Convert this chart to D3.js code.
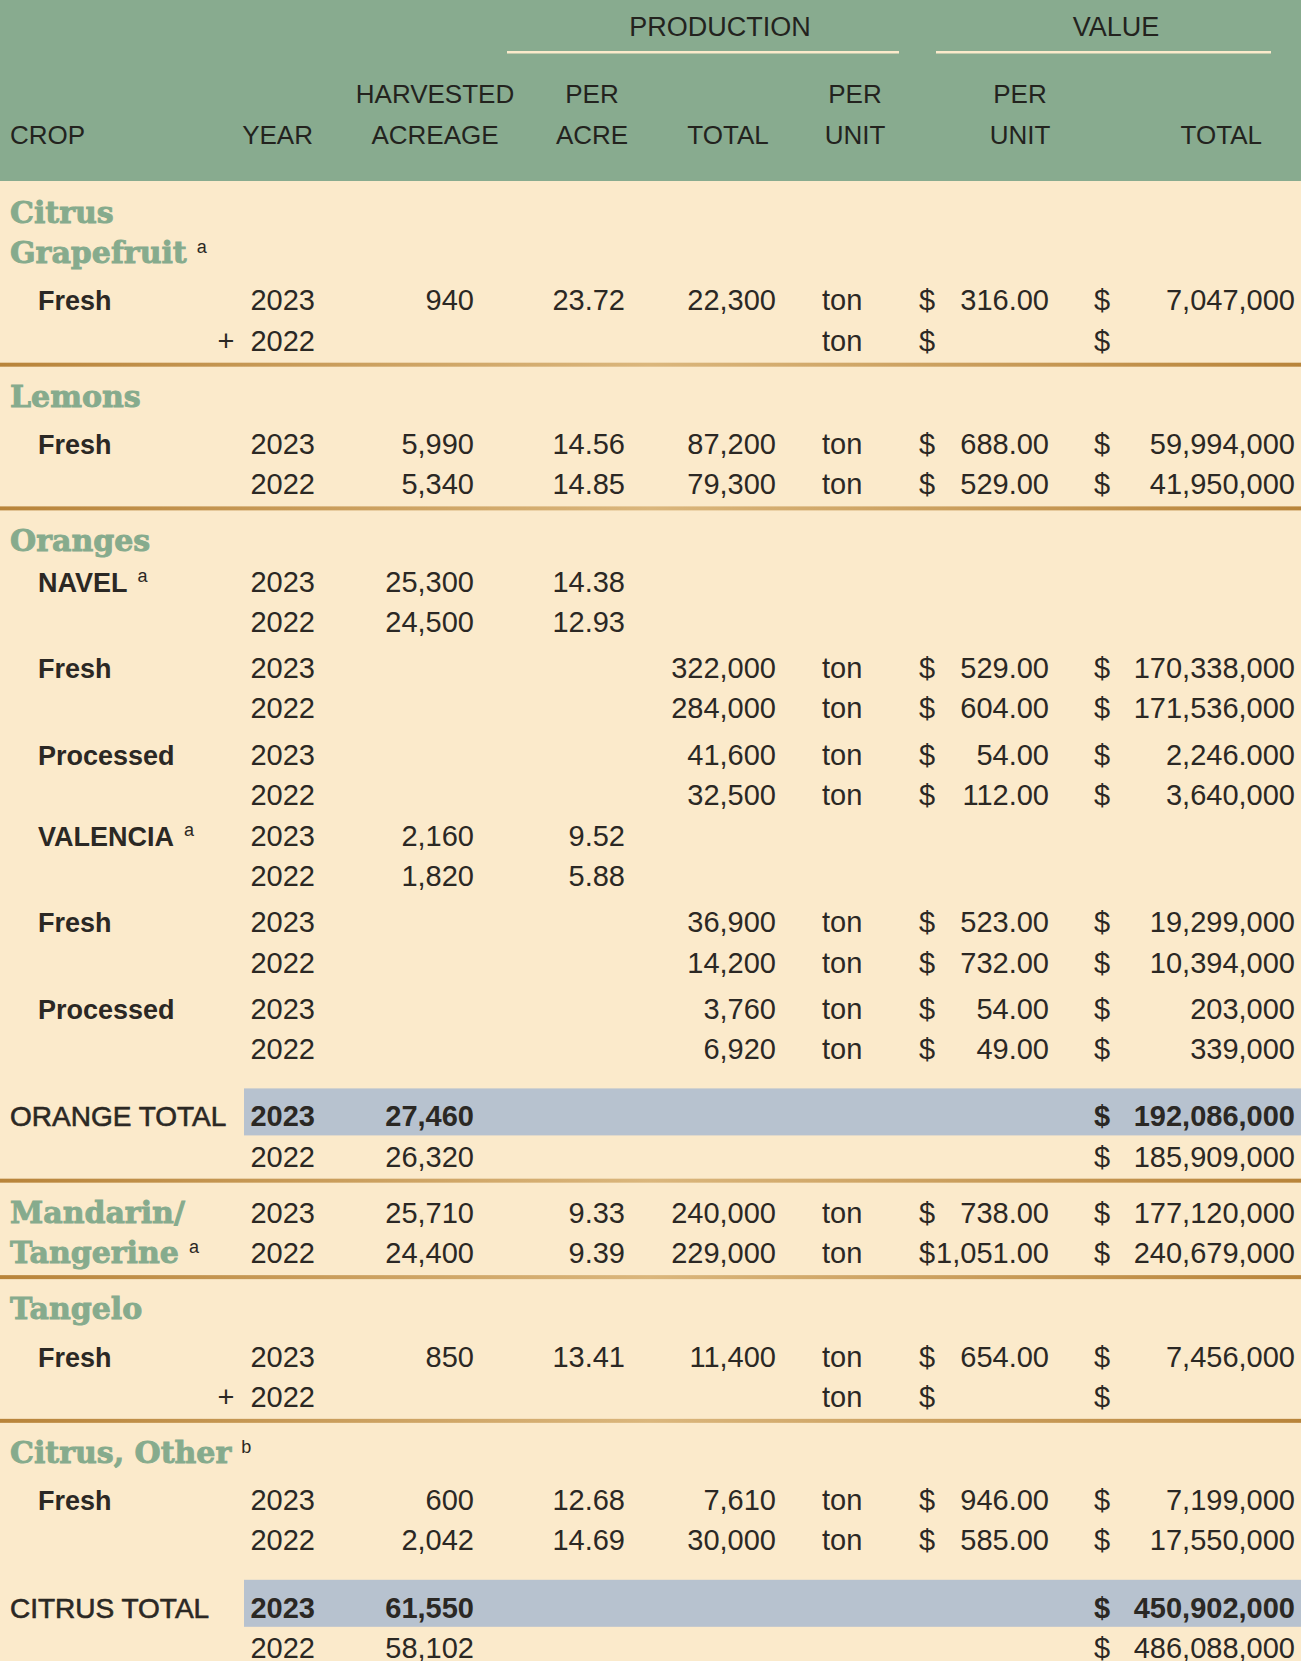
<!DOCTYPE html>
<html>
<head>
<meta charset="utf-8">
<script src="https://cdn.jsdelivr.net/npm/d3@7"></script>
<style>
  html, body { margin: 0; padding: 0; background: #fbeacb; }
  svg { display: block; }
</style>
</head>
<body>
<div id="table"></div>
<script>
// ---- header labels
const groupHeaders = ["PRODUCTION", "VALUE"];
const headerTop    = ["", "", "HARVESTED", "PER", "", "PER", "PER", ""];
const headerBottom = ["CROP", "YEAR", "ACREAGE", "ACRE", "TOTAL", "UNIT", "UNIT", "TOTAL"];

// ---- rows (one entry per table line)
const rowSection = [0,0,0,0, 1,1,1, 2,2,2,2,2,2,2,2,2,2,2,2,2,2,2, 3,3, 4,4,4, 5,5,5,5,5];
const rowStyle = [
  "crop","crop","item","item",
  "crop","item","item",
  "crop","item","item","item","item","item","item","item","item","item","item","item","item","total","total",
  "crop","crop",
  "crop","item","item",
  "crop","item","item","total","total"];
const rowLabels = [
  "Citrus","Grapefruit","Fresh","",
  "Lemons","Fresh","",
  "Oranges","NAVEL","","Fresh","","Processed","","VALENCIA","","Fresh","","Processed","","ORANGE TOTAL","",
  "Mandarin/","Tangerine",
  "Tangelo","Fresh","",
  "Citrus, Other","Fresh","","CITRUS TOTAL",""];
const rowNotes = [
  "","a","","",
  "","","",
  "","a","","","","","","a","","","","","","","",
  "","a",
  "","","",
  "b","","","",""];
const rowMarks = [
  "","","","+",
  "","","",
  "","","","","","","","","","","","","","","",
  "","",
  "","","+",
  "","","","",""];
const years = [
  "","","2023","2022",
  "","2023","2022",
  "","2023","2022","2023","2022","2023","2022","2023","2022","2023","2022","2023","2022","2023","2022",
  "2023","2022",
  "","2023","2022",
  "","2023","2022","2023","2022"];
const acreage = [
  "","","940","",
  "","5,990","5,340",
  "","25,300","24,500","","","","","2,160","1,820","","","","","27,460","26,320",
  "25,710","24,400",
  "","850","",
  "","600","2,042","61,550","58,102"];
const perAcre = [
  "","","23.72","",
  "","14.56","14.85",
  "","14.38","12.93","","","","","9.52","5.88","","","","","","",
  "9.33","9.39",
  "","13.41","",
  "","12.68","14.69","",""];
const prodTotal = [
  "","","22,300","",
  "","87,200","79,300",
  "","","","322,000","284,000","41,600","32,500","","","36,900","14,200","3,760","6,920","","",
  "240,000","229,000",
  "","11,400","",
  "","7,610","30,000","",""];
const units = [
  "","","ton","ton",
  "","ton","ton",
  "","","","ton","ton","ton","ton","","","ton","ton","ton","ton","","",
  "ton","ton",
  "","ton","ton",
  "","ton","ton","",""];
const unitValue = [
  "","","316.00","",
  "","688.00","529.00",
  "","","","529.00","604.00","54.00","112.00","","","523.00","732.00","54.00","49.00","","",
  "738.00","1,051.00",
  "","654.00","",
  "","946.00","585.00","",""];
const totalValue = [
  "","","7,047,000","",
  "","59,994,000","41,950,000",
  "","","","170,338,000","171,536,000","2,246.000","3,640,000","","","19,299,000","10,394,000","203,000","339,000","192,086,000","185,909,000",
  "177,120,000","240,679,000",
  "","7,456,000","",
  "","7,199,000","17,550,000","450,902,000","486,088,000"];

// ---- layout
const W = 1301, H = 1661, headH = 181;
const sans = "'Liberation Sans', Arial, sans-serif";
const serif = "'DejaVu Serif', serif";
const ink = "#2b2824", green = "#86ab8d", cream = "#fbeacb";

const svg = d3.select("#table").append("svg")
  .attr("width", W).attr("height", H);

svg.append("rect").attr("width", W).attr("height", H).attr("fill", cream);

let grad = svg.append("defs").append("linearGradient").attr("id", "rule");
grad.append("stop").attr("offset", "0%").attr("stop-color", "#b8843a");
grad.append("stop").attr("offset", "50%").attr("stop-color", "#dab67c");
grad.append("stop").attr("offset", "100%").attr("stop-color", "#b8843a");

// header
svg.append("rect").attr("width", W).attr("height", headH).attr("fill", "#88ab8f");

const headX = d3.scaleOrdinal().domain(d3.range(8))
  .range([10, 313, 435, 592, 728, 855, 1020, 1262]);
const headAnchor = i => i === 0 ? "start" : (i === 1 || i === 7) ? "end" : "middle";

const head = svg.append("g")
  .attr("font-family", sans).attr("font-size", 26).attr("fill", "#23231e");

head.selectAll(".h-top").data(headerTop).join("text")
  .attr("class", "h-top")
  .attr("x", (d, i) => headX(i)).attr("y", 103)
  .attr("text-anchor", (d, i) => headAnchor(i))
  .text(d => d);

head.selectAll(".h-bot").data(headerBottom).join("text")
  .attr("class", "h-bot")
  .attr("x", (d, i) => headX(i)).attr("y", 144)
  .attr("text-anchor", (d, i) => headAnchor(i))
  .text(d => d);

const groupSpan = [[507, 899], [936, 1271]];
const groupCenter = [720, 1116];
head.selectAll(".h-grp").data(groupHeaders).join("text")
  .attr("class", "h-grp")
  .attr("x", (d, i) => groupCenter[i])
  .attr("y", 36)
  .attr("font-size", 27)
  .attr("text-anchor", "middle")
  .text(d => d);

head.selectAll(".h-line").data(groupSpan).join("rect")
  .attr("class", "h-line")
  .attr("x", d => d[0]).attr("y", 51)
  .attr("width", d => d[1] - d[0]).attr("height", 2.5)
  .attr("fill", cream);

// ---- vertical position of every row
const gaps = rowLabels.map((d, i) => {
  if (i === 0) return 0;
  if (rowSection[i] !== rowSection[i - 1]) return 56;
  if (rowStyle[i] === "total" && rowStyle[i - 1] !== "total") return 67;
  if (years[i] === "2022") return 40;
  if (rowStyle[i] === "crop" && rowStyle[i - 1] === "crop") return 40;
  if (acreage[i] && !prodTotal[i] && rowLabels[i]) return 41;   // NAVEL / VALENCIA lines
  if (rowStyle[i - 1] === "crop") return 47;
  return 46;
});
const offsets = Array.from(d3.cumsum(gaps));
const y = d3.scaleLinear()
  .domain([0, offsets[offsets.length - 1]])
  .range([223, 1658]);

const rows = rowLabels.map((label, i) => ({ i, label, y: y(offsets[i]) }));
const body = svg.append("g");

// highlight bands on the 2023 total lines
body.selectAll(".band")
  .data(rows.filter(r => rowStyle[r.i] === "total" && years[r.i] === "2023"))
  .join("rect")
  .attr("class", "band")
  .attr("x", 244).attr("y", d => d.y - 38)
  .attr("width", W - 244).attr("height", 47)
  .attr("fill", "#b7c2cf");

// gold rules between sections
body.selectAll(".rule")
  .data(rows.filter(r => r.i > 0 && rowSection[r.i] !== rowSection[r.i - 1]))
  .join("rect")
  .attr("class", "rule")
  .attr("x", 0).attr("y", d => y(offsets[d.i - 1] + 14) - 2)
  .attr("width", W).attr("height", 4)
  .attr("fill", "url(#rule)");

// row labels
const labels = body.selectAll(".label")
  .data(rows.filter(r => r.label))
  .join("text")
  .attr("class", "label")
  .attr("x", d => rowStyle[d.i] === "item" ? 38 : 10)
  .attr("y", d => d.y)
  .attr("font-family", d => rowStyle[d.i] === "crop" ? serif : sans)
  .attr("font-weight", d => rowStyle[d.i] === "total" ? "normal" : "bold")
  .attr("font-size", d => rowStyle[d.i] === "crop" ? 30 : (rowStyle[d.i] === "total" ? 28 : 27))
  .attr("fill", d => rowStyle[d.i] === "crop" ? green : ink)
  .attr("stroke", d => rowStyle[d.i] === "crop" ? green : (rowStyle[d.i] === "total" ? ink : "none"))
  .attr("stroke-width", d => rowStyle[d.i] === "crop" ? 0.9 : 0.6)
  .text(d => d.label);

// footnote letters after labels
labels.each(function (d) {
  if (!rowNotes[d.i]) return;
  const w = this.getComputedTextLength();
  body.append("text")
    .attr("x", (rowStyle[d.i] === "item" ? 38 : 10) + w + 10)
    .attr("y", d.y - 10)
    .attr("font-family", sans).attr("font-size", 18)
    .attr("fill", ink)
    .text(rowNotes[d.i]);
});

// numeric columns
const strong = i => rowStyle[i] === "total" && years[i] === "2023";
const columns = [
  { data: rowMarks,   x: 226,  anchor: "middle" },
  { data: years,      x: 315,  anchor: "end" },
  { data: acreage,    x: 474,  anchor: "end" },
  { data: perAcre,    x: 625,  anchor: "end" },
  { data: prodTotal,  x: 776,  anchor: "end" },
  { data: units,      x: 822,  anchor: "start" },
  { data: units.map(u => u ? "$" : ""), x: 919, anchor: "start" },
  { data: unitValue,  x: 1049, anchor: "end" },
  { data: units.map((u, i) => (u || totalValue[i]) ? "$" : ""), x: 1094, anchor: "start" },
  { data: totalValue, x: 1295, anchor: "end" }
];

columns.forEach(col => {
  body.append("g")
    .attr("font-family", sans).attr("font-size", 29).attr("fill", ink)
    .selectAll("text")
    .data(rows.filter(r => col.data[r.i]))
    .join("text")
    .attr("x", col.x).attr("y", d => d.y)
    .attr("text-anchor", col.anchor)
    .attr("font-weight", d => strong(d.i) ? "bold" : "normal")
    .text(d => col.data[d.i]);
});
</script>
</body>
</html>
